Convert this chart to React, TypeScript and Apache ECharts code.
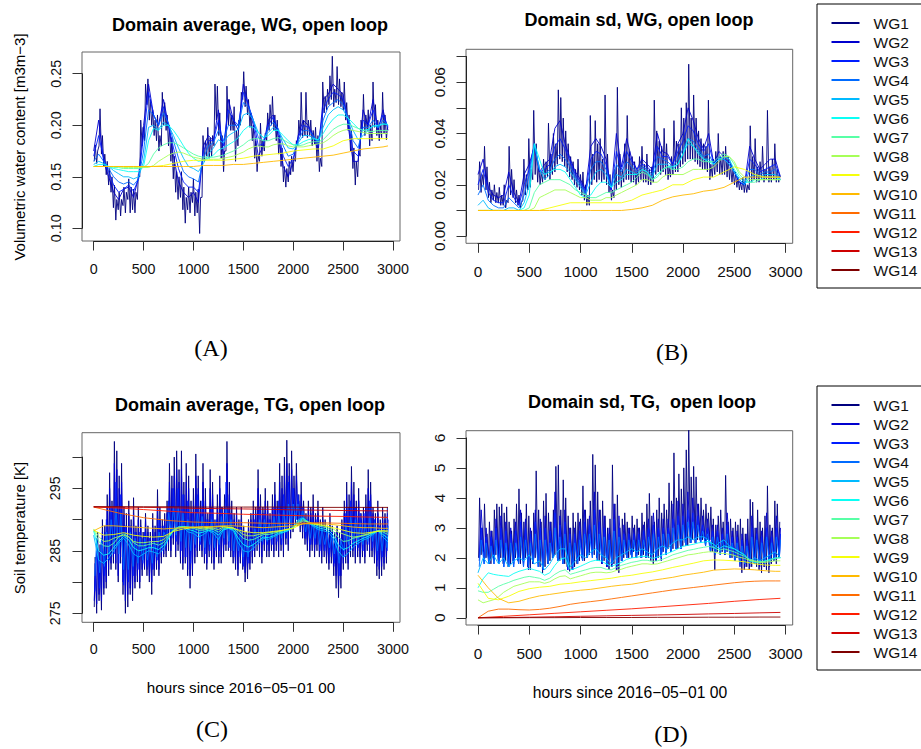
import React, { useEffect, useRef } from "react";
import * as echarts from "echarts";

const SERIES_NAMES = ["WG1","WG2","WG3","WG4","WG5","WG6","WG7","WG8","WG9","WG10","WG11","WG12","WG13","WG14"];
const SERIES_COLORS = ["#00007F","#0000CE","#001DFF","#006BFF","#00BAFF","#0AFFF5","#58FFA6","#A6FF58","#F5FF0A","#FFBA00","#FF6B00","#FF1D00","#CE0000","#7F0000"];

const X_TICK_LABELS = [0, 500, 1000, 1500, 2000, 2500, 3000];
const Y_LABELS_A = [0.10, 0.15, 0.20, 0.25];
const Y_LABELS_B = [0.00, 0.02, 0.04, 0.06];
const Y_LABELS_C = [275, 285, 295];
const Y_LABELS_D = [0, 1, 2, 3, 4, 5, 6];

// hour grids (x values)
const H50 = Array.from({ length: 60 }, (_, i) => i * 50);
const H100 = [...Array.from({ length: 30 }, (_, i) => i * 100), 2950];
const H250 = [...Array.from({ length: 12 }, (_, i) => i * 250), 2950];

// ---------- Panel A: domain average WG ----------
// WG1 daily maximum / minimum
const A_MAX1 = [
0.181,0.175,0.216,0.190,0.172,0.165,0.158,0.150,0.142,0.128,
0.135,0.128,0.140,0.135,0.148,0.140,0.138,0.135,0.152,0.205,
0.198,0.240,0.245,0.225,0.215,0.205,0.210,0.190,0.232,0.222,
0.210,0.200,0.188,0.170,0.155,0.150,0.155,0.140,0.130,0.140,
0.135,0.148,0.135,0.138,0.130,0.190,0.185,0.198,0.188,0.190,
0.240,0.238,0.212,0.190,0.175,0.238,0.225,0.210,0.218,0.195,
0.205,0.232,0.252,0.238,0.225,0.212,0.200,0.185,0.170,0.202,
0.185,0.192,0.212,0.220,0.228,0.210,0.205,0.190,0.178,0.160,
0.158,0.165,0.170,0.168,0.185,0.205,0.232,0.205,0.232,0.205,
0.205,0.195,0.198,0.190,0.168,0.242,0.228,0.235,0.248,0.267,
0.235,0.257,0.245,0.232,0.242,0.222,0.210,0.195,0.178,0.165,
0.175,0.205,0.230,0.210,0.215,0.200,0.242,0.220,0.205,0.200,
0.232,0.210,0.198];
const A_MIN1 = [
0.165,0.163,0.180,0.172,0.160,0.152,0.142,0.135,0.120,0.108,
0.118,0.112,0.122,0.115,0.128,0.115,0.118,0.115,0.128,0.150,
0.180,0.185,0.220,0.205,0.200,0.190,0.185,0.175,0.180,0.200,
0.195,0.180,0.165,0.148,0.135,0.128,0.130,0.118,0.105,0.118,
0.115,0.125,0.112,0.115,0.095,0.130,0.165,0.170,0.168,0.170,
0.180,0.205,0.190,0.168,0.155,0.175,0.200,0.195,0.195,0.165,
0.180,0.200,0.225,0.218,0.210,0.198,0.185,0.168,0.155,0.165,
0.170,0.175,0.185,0.195,0.200,0.195,0.185,0.172,0.160,0.145,
0.140,0.145,0.152,0.155,0.165,0.180,0.190,0.188,0.190,0.188,
0.190,0.180,0.182,0.165,0.155,0.160,0.212,0.215,0.220,0.225,
0.218,0.222,0.220,0.218,0.215,0.205,0.195,0.175,0.158,0.142,
0.150,0.170,0.195,0.190,0.195,0.180,0.185,0.198,0.190,0.185,
0.188,0.192,0.186];
const A_WG2 = [
0.175,0.205,0.165,0.150,0.135,0.128,0.138,0.140,0.130,0.150,
0.200,0.240,0.210,0.200,0.225,0.200,0.170,0.145,0.135,0.130,
0.135,0.125,0.180,0.190,0.185,0.215,0.170,0.225,0.205,0.195,
0.240,0.220,0.200,0.170,0.180,0.205,0.210,0.190,0.160,0.150,
0.165,0.190,0.205,0.200,0.190,0.175,0.225,0.230,0.240,0.235,
0.230,0.200,0.165,0.165,0.215,0.200,0.225,0.195,0.215,0.195];
const A_WG3 = [
0.170,0.190,0.168,0.155,0.142,0.135,0.138,0.142,0.136,0.148,
0.190,0.232,0.210,0.200,0.218,0.200,0.178,0.158,0.145,0.140,
0.140,0.135,0.175,0.185,0.185,0.205,0.180,0.215,0.205,0.200,
0.232,0.220,0.205,0.180,0.182,0.200,0.208,0.195,0.170,0.160,
0.168,0.188,0.200,0.198,0.190,0.180,0.215,0.225,0.232,0.230,
0.225,0.205,0.175,0.170,0.205,0.200,0.215,0.198,0.210,0.198];
const A_WG4 = [
0.165,0.172,0.165,0.158,0.150,0.145,0.143,0.145,0.142,0.148,
0.175,0.215,0.210,0.200,0.212,0.202,0.185,0.168,0.155,0.150,
0.148,0.145,0.168,0.180,0.183,0.195,0.185,0.200,0.200,0.200,
0.222,0.218,0.205,0.188,0.185,0.197,0.203,0.197,0.180,0.170,
0.172,0.185,0.195,0.195,0.190,0.183,0.205,0.218,0.222,0.225,
0.220,0.207,0.185,0.178,0.198,0.198,0.205,0.198,0.205,0.200];
const A_WG5 = [
0.162,0.165,0.163,0.160,0.156,0.153,0.150,0.150,0.148,0.150,
0.165,0.198,0.200,0.196,0.203,0.200,0.190,0.178,0.168,0.160,
0.158,0.155,0.163,0.172,0.178,0.186,0.183,0.190,0.193,0.196,
0.210,0.212,0.205,0.193,0.188,0.193,0.198,0.195,0.186,0.178,
0.177,0.183,0.190,0.190,0.188,0.185,0.198,0.210,0.215,0.218,
0.215,0.207,0.195,0.186,0.190,0.195,0.200,0.198,0.202,0.200];
const A_WG6 = [
0.160,0.162,0.162,0.160,0.158,0.157,0.156,0.155,0.155,0.155,
0.160,0.185,0.197,0.195,0.200,0.200,0.195,0.188,0.180,0.173,
0.168,0.165,0.166,0.168,0.171,0.176,0.178,0.181,0.184,0.188,
0.195,0.199,0.198,0.193,0.188,0.190,0.195,0.195,0.190,0.185,
0.181,0.181,0.184,0.186,0.187,0.186,0.192,0.200,0.206,0.210,
0.210,0.207,0.202,0.197,0.195,0.196,0.199,0.200,0.201,0.201];
const A_WG7 = [
0.160,0.160,0.160,0.160,0.159,0.159,0.158,0.158,0.158,0.158,
0.159,0.163,0.172,0.178,0.181,0.183,0.183,0.181,0.178,0.175,
0.172,0.170,0.169,0.169,0.169,0.170,0.171,0.173,0.175,0.178,
0.181,0.185,0.187,0.187,0.185,0.185,0.187,0.188,0.186,0.183,
0.181,0.180,0.181,0.183,0.184,0.184,0.186,0.191,0.196,0.199,
0.201,0.201,0.199,0.197,0.195,0.194,0.194,0.195,0.195,0.195];
const A_WG8 = [
0.160,0.160,0.160,0.160,0.160,0.160,0.159,0.159,0.159,0.159,
0.159,0.159,0.161,0.165,0.168,0.171,0.173,0.174,0.173,0.171,
0.169,0.168,0.167,0.167,0.167,0.167,0.168,0.169,0.170,0.172,
0.174,0.177,0.179,0.180,0.179,0.179,0.181,0.182,0.182,0.180,
0.179,0.179,0.179,0.180,0.181,0.182,0.183,0.186,0.190,0.193,
0.195,0.196,0.195,0.194,0.193,0.192,0.192,0.192,0.192,0.192];
const A_WG9 = [
0.160,0.160,0.160,0.160,0.160,0.160,0.160,0.161,0.163,0.165,
0.166,0.166,0.166,0.166,0.167,0.168,0.170,0.171,0.172,0.173,
0.175,0.176,0.177,0.177,0.180,0.185,0.187,0.187,0.187,0.187,0.187];
const A_WG10 = [
0.160,0.160,0.160,0.160,0.160,0.160,0.160,0.160,0.160,0.160,
0.160,0.161,0.161,0.161,0.162,0.162,0.163,0.164,0.165,0.166,
0.167,0.168,0.169,0.170,0.171,0.173,0.175,0.177,0.178,0.179,0.180];

// ---------- Panel B: domain sd WG ----------
const B_MAX1 = [
0.029,0.024,0.035,0.027,0.021,0.018,0.020,0.017,0.019,0.016,
0.020,0.014,0.035,0.026,0.022,0.018,0.016,0.013,0.030,0.024,
0.038,0.026,0.049,0.036,0.028,0.025,0.030,0.029,0.044,0.032,
0.040,0.036,0.057,0.054,0.046,0.041,0.036,0.031,0.029,0.026,
0.030,0.024,0.025,0.020,0.016,0.047,0.032,0.045,0.036,0.038,
0.030,0.055,0.032,0.024,0.018,0.026,0.058,0.032,0.026,0.036,
0.047,0.033,0.031,0.029,0.026,0.031,0.035,0.028,0.032,0.026,
0.027,0.053,0.041,0.037,0.035,0.042,0.036,0.027,0.031,0.045,
0.037,0.036,0.050,0.046,0.052,0.067,0.046,0.055,0.046,0.041,
0.038,0.036,0.035,0.053,0.028,0.030,0.033,0.040,0.031,0.033,
0.035,0.031,0.028,0.026,0.025,0.023,0.021,0.023,0.021,0.020,
0.043,0.031,0.038,0.027,0.029,0.035,0.026,0.049,0.027,0.030,
0.036,0.026,0.024];
const B_MIN1 = [
0.018,0.017,0.020,0.018,0.015,0.013,0.014,0.013,0.013,0.012,
0.012,0.011,0.013,0.016,0.015,0.013,0.012,0.011,0.014,0.016,
0.018,0.019,0.022,0.024,0.021,0.020,0.021,0.022,0.023,0.022,
0.024,0.025,0.028,0.030,0.029,0.027,0.025,0.023,0.022,0.020,
0.019,0.018,0.016,0.014,0.012,0.012,0.020,0.022,0.021,0.022,
0.021,0.022,0.020,0.017,0.014,0.015,0.018,0.020,0.019,0.021,
0.022,0.022,0.021,0.021,0.020,0.021,0.022,0.021,0.021,0.020,
0.020,0.021,0.024,0.025,0.024,0.025,0.024,0.022,0.023,0.024,
0.025,0.025,0.027,0.028,0.029,0.030,0.030,0.030,0.029,0.028,
0.027,0.026,0.026,0.025,0.022,0.023,0.024,0.025,0.024,0.024,
0.024,0.023,0.022,0.021,0.020,0.019,0.018,0.018,0.017,0.017,
0.018,0.021,0.022,0.021,0.021,0.022,0.021,0.022,0.021,0.021,
0.022,0.021,0.021];
const B_WG2 = [
0.024,0.030,0.019,0.016,0.015,0.016,0.025,0.017,0.013,0.024,
0.028,0.035,0.025,0.028,0.030,0.042,0.045,0.036,0.030,0.025,
0.022,0.018,0.035,0.038,0.035,0.030,0.018,0.040,0.027,0.038,
0.030,0.026,0.030,0.028,0.026,0.040,0.033,0.032,0.028,0.036,
0.040,0.050,0.045,0.038,0.034,0.040,0.028,0.033,0.031,0.030,
0.025,0.021,0.020,0.035,0.030,0.026,0.028,0.030,0.030,0.023];
const B_WG3 = [
0.020,0.026,0.017,0.014,0.013,0.013,0.020,0.015,0.012,0.020,
0.026,0.036,0.025,0.026,0.028,0.035,0.038,0.034,0.029,0.024,
0.021,0.017,0.030,0.033,0.032,0.028,0.018,0.033,0.026,0.033,
0.029,0.026,0.028,0.027,0.025,0.035,0.031,0.031,0.028,0.033,
0.037,0.043,0.041,0.036,0.033,0.036,0.028,0.031,0.030,0.029,
0.025,0.021,0.020,0.030,0.028,0.025,0.026,0.027,0.028,0.023];
const B_WG4 = [
0.016,0.020,0.014,0.012,0.011,0.011,0.015,0.013,0.011,0.016,
0.024,0.036,0.026,0.024,0.026,0.030,0.032,0.030,0.027,0.023,
0.020,0.017,0.026,0.029,0.029,0.026,0.019,0.028,0.025,0.029,
0.027,0.025,0.027,0.026,0.024,0.031,0.030,0.029,0.027,0.030,
0.034,0.038,0.037,0.034,0.031,0.032,0.028,0.030,0.030,0.028,
0.025,0.022,0.020,0.026,0.026,0.024,0.025,0.025,0.026,0.022];
const B_WG5 = [
0.012,0.014,0.011,0.010,0.010,0.010,0.011,0.011,0.010,0.013,
0.020,0.036,0.026,0.022,0.024,0.027,0.028,0.027,0.025,0.022,
0.019,0.016,0.021,0.025,0.026,0.024,0.019,0.024,0.023,0.026,
0.025,0.024,0.026,0.025,0.023,0.028,0.028,0.028,0.026,0.028,
0.032,0.036,0.035,0.033,0.030,0.030,0.028,0.030,0.030,0.028,
0.025,0.022,0.020,0.023,0.024,0.023,0.024,0.024,0.024,0.022];
const B_WG6 = [
0.010,0.010,0.010,0.010,0.010,0.010,0.010,0.010,0.010,0.011,
0.016,0.036,0.030,0.024,0.025,0.026,0.026,0.025,0.022,0.019,
0.016,0.015,0.016,0.019,0.021,0.021,0.019,0.021,0.022,0.024,
0.024,0.024,0.026,0.025,0.022,0.024,0.026,0.027,0.027,0.028,
0.032,0.038,0.035,0.032,0.030,0.029,0.028,0.030,0.031,0.030,
0.026,0.023,0.021,0.021,0.022,0.022,0.023,0.023,0.023,0.022];
const B_WG7 = [
0.010,0.010,0.010,0.010,0.010,0.010,0.010,0.010,0.010,0.010,
0.011,0.017,0.020,0.021,0.022,0.022,0.022,0.021,0.020,0.018,
0.017,0.016,0.015,0.015,0.016,0.017,0.017,0.018,0.019,0.020,
0.021,0.023,0.025,0.024,0.022,0.023,0.026,0.027,0.026,0.026,
0.027,0.029,0.030,0.030,0.029,0.029,0.029,0.031,0.032,0.031,
0.028,0.024,0.022,0.021,0.021,0.022,0.022,0.022,0.022,0.022];
const B_WG8 = [
0.010,0.010,0.010,0.010,0.010,0.010,0.010,0.010,0.010,0.010,
0.010,0.011,0.015,0.016,0.017,0.018,0.018,0.018,0.017,0.016,
0.015,0.015,0.014,0.014,0.014,0.015,0.015,0.016,0.017,0.018,
0.019,0.020,0.022,0.022,0.021,0.021,0.023,0.024,0.024,0.024,
0.024,0.025,0.026,0.026,0.026,0.026,0.027,0.029,0.031,0.031,
0.029,0.025,0.023,0.022,0.022,0.022,0.022,0.022,0.022,0.022];
const B_WG9 = [
0.010,0.010,0.010,0.010,0.010,0.010,0.010,0.011,0.012,0.013,
0.013,0.013,0.013,0.013,0.013,0.014,0.016,0.017,0.018,0.020,
0.020,0.022,0.023,0.023,0.025,0.027,0.026,0.024,0.023,0.023,0.023];
const B_WG10 = [
0.010,0.010,0.010,0.010,0.010,0.010,0.010,0.010,0.010,0.010,
0.010,0.010,0.010,0.010,0.010,0.0104,0.011,0.012,0.014,0.0153,
0.016,0.0165,0.0175,0.018,0.019,0.021,0.023,0.023,0.023,0.023,0.023];

// ---------- Panel C: domain average TG ----------
const C_MAX1 = [
284,288,286,290,289,294,297.5,293,302.5,301,
297,299,292,291,293,290,293.5,289,292,290,
288,291,289,288,291,289,294.8,292,290,291,
293,299,297,300,301,298,301,296,299,297,
293,295,300.5,297,293,299,295,291,298,296,
290,294,297,292,294,302.5,296,293,291,292,
290,292,289,288,290,291,293,292,298,294,
292,295,293,291,294,296,293,299,297,300,
302.7,299,301,297,299,294,296,293,291,293,
292,294,291,293,290,292,290,289,291,289,
288,289,288,290,293,296,294,298.5,296,293,
295,291,292,294,298,296,292,291,293,290,
292,291,292];
const C_MIN1 = [
276,275,277,275.5,278,279,281,282,283,282,
280,283,278,275,276,278,277,279,280,279,
281,282,281,280,278,281,282,281,283,284,
284,285,284,286,284,285,283,282,283,281,
279,281,283,284,285,284,283,282,284,283,
282,284,283,283,284,285,285,284,283,282,
281,283,282,280,280.5,282,283,284,285,284,
283,285,284,284,285,284,285,284,285,284,
286,285,287,288,289,289,288,287,286,285,
284,285,284,285,284,283,284,283,282,283,
281,279,277.5,279,282,283,282,284,284,283,
284,283,284,283,285,284,284,283,281,280.5,
281,282,283];
const C_MAX2 = [
283,286,285,288,288,292,295,292,299,298,
295,296,291,289,291,289,291,288,290,289,
287,290,288,287,289,288,292,290,289,290,
291,296,295,297,298,296,298,294,296,295,
291,293,297,295,291,296,293,290,295,294,
289,292,295,291,292,299,294,291,290,291,
289,290,288,287,289,290,291,291,295,292,
291,293,292,290,292,294,292,296,295,297,
299,297,298,295,297,293,294,292,290,292,
291,292,290,291,289,290,289,288,289,288,
287,288,287,289,291,294,292,296,294,292,
293,290,291,292,295,294,291,290,291,289,
290,290,291];
const C_MIN2 = [
277,276.5,278,277,279,280,282,283,284,283,
281,284,280,277,278,279,279,280,281,280,
282,282.5,282,281,280,282,283,282,284,284.5,
285,286,285,287,285,286,284,283,284,282,
281,282,284,285,286,285,284,283,285,284,
283,285,284,284,285,286,286,285,284,283,
282,284,283,281.5,282,283,284,285,286,285,
284,286,285,285,286,285,286,285,286,285,
287,286,288,289,290,290,289,288,287,286,
285,286,285,286,285,284,285,284,283,284,
282.5,281,279.5,281,283,284,283,285,285,284,
285,284,285,284,286,285,285,284,282.5,282,
282.5,283,284];
const C_MAX3 = [
285,287,290,292,296,294,289,289,288,288,
288,287,287,290,289,293,295,295,294,293,
291,294,293,290,292,290,292,296,291,289,
289,287,288,290,292,291,290,292,293,294,
296,295,294,292,290,290,290,289,288,288,
287,287,291,293,292,291,291,293,290,289,
289,290];
const C_MIN3 = [
278.5,279,281,283.5,284.5,283,279.5,280,281,282,
283,282.5,282,283.5,285,286.5,287,286.5,285,284,
283,285.5,286,284.5,285,285,285,286,285.5,284,
284,282.5,283,285,286,286,286,286,286.5,286,
287,288.5,290,289,287,286,286,285,285,284.5,
283,281,284,285,285.5,285.5,285,286,285.5,283.5,
284,285];
const C_MAX4 = [
287,287,288,290,292,291,288,288,287,287,
287,286.5,286.5,288,288,291,292,292,291,290,
289.5,291,290.5,289,290,289,290.5,292,290,288.5,
288.5,287,287,288.5,290,290,289.5,290.5,291,291.5,
292.5,292.5,292.5,291.5,290,289.5,289.5,288.5,288,287.5,
287,286.5,289,290.5,290,289.5,289.5,290.5,289.5,288.5,
288.5,289];
const C_MIN4 = [
281,281.5,282.5,284.5,285.5,284.5,282,282,282.5,283,
283.5,283.5,283,284,285.5,287,287.5,287.5,286.5,285.5,
285,286,286.5,285.5,286,285.5,286,287,286.5,285,
285,284,284,285.5,286.5,286.5,286.5,287,287,287,
288,289,290,289.5,288,287,287,286,286,285.5,
284.5,283,285,286,286,286,286,286.5,286.5,285,
285,285.5];
const C_WG5 = [
287.5,283.5,283.0,283.8,285.0,286.2,287.0,286.0,284.5,284.0,
284.5,285.0,284.8,284.5,285.3,287.0,288.5,288.8,288.7,288.0,
287.8,287.2,287.6,288.2,287.8,286.8,288.3,288.6,288.2,286.3,
285.0,284.8,285.4,286.2,287.0,286.8,287.2,287.6,287.9,288.2,
288.8,290.0,290.3,289.5,288.9,288.4,288.2,288.0,287.0,285.0,
284.0,284.6,285.6,286.2,286.7,287.0,287.6,288.2,287.2,286.4];
const C_WG6 = [
288.2,285.0,284.3,284.5,285.5,286.5,287.3,286.8,285.5,285.0,
285.2,285.5,285.5,285.2,285.8,287.0,288.3,288.8,288.8,288.4,
288.2,287.8,288.0,288.3,288.1,287.5,288.4,288.6,288.4,287.0,
286.0,285.6,286.0,286.6,287.2,287.1,287.4,287.8,288.0,288.3,
288.7,289.7,290.2,289.6,289.1,288.7,288.5,288.3,287.5,286.0,
285.2,285.5,286.2,286.6,287.0,287.3,287.8,288.2,287.6,287.0];
const C_WG7 = [
288.4,286.5,285.8,285.7,286.2,287.2,287.7,287.3,286.3,285.8,
285.8,286.0,286.2,285.9,286.3,287.3,288.3,288.8,288.9,288.8,
288.6,288.3,288.3,288.5,288.4,288.0,288.6,288.7,288.6,287.8,
287.0,286.7,286.8,287.2,287.6,287.6,287.8,288.0,288.2,288.4,
288.7,289.5,290.0,289.6,289.3,289.0,288.8,288.6,288.1,287.2,
286.5,286.6,287.0,287.2,287.4,287.6,287.9,288.2,288.0,287.6];
const C_WG8 = [
288.5,287.3,286.5,286.6,287.0,287.3,287.5,287.2,286.5,286.3,
286.3,286.4,286.5,286.5,286.8,287.5,288.2,288.6,288.8,288.8,
288.8,288.6,288.5,288.6,288.6,288.4,288.8,288.8,288.7,288.2,
287.6,287.4,287.4,287.6,287.8,287.9,288.0,288.1,288.3,288.5,
288.7,289.3,289.8,289.6,289.4,289.2,289.0,288.8,288.5,288.0,
287.7,287.4,287.2,287.3,287.5,287.7,288.0,288.2,288.2,288.0];
const C_WG9 = [
288.3,287.5,287.6,287.9,287.5,287.3,287.2,287.3,288.1,288.5,
288.7,288.7,288.8,288.9,288.6,288.1,287.9,287.9,288.1,288.3,
288.6,289.4,289.3,289.1,288.7,288.3,287.9,287.8,288.0,288.2,288.2];
const C_WG10 = [
288.2,289.0,289.0,288.9,288.8,288.7,288.6,288.5,288.6,288.7,
288.8,288.9,288.9,289.0,289.0,288.9,288.8,288.7,288.8,288.9,
289.0,289.3,289.4,289.3,289.2,289.0,288.8,288.7,288.7,288.6,288.6];
const C_WG11 = [292.0,291.05,290.3,289.85,289.6,289.5,289.5,289.4,289.4,289.5,289.4,289.3,289.3];
const C_WG12 = [292.0,291.85,291.6,291.35,291.1,291.0,290.85,290.75,290.65,290.55,290.5,290.4,290.35];
const C_WG13 = [292.05,292.0,291.95,291.9,291.8,291.75,291.7,291.65,291.55,291.5,291.45,291.4,291.4];
const C_WG14 = [292.05,292.05,292.05,292.05,292.0,292.0,292.0,292.0,292.0,291.95,291.95,291.95,291.95];

// ---------- Panel D: domain sd TG ----------
const D_MAX1 = [
4.0,3.0,3.8,2.8,3.2,2.9,3.6,3.8,3.7,3.8,
3.5,3.7,3.2,2.9,3.3,3.8,4.3,3.5,3.2,3.8,
3.4,2.9,3.5,4.9,3.6,3.2,3.9,4.15,3.5,3.2,
3.6,5.05,5.1,3.6,4.6,4.0,3.4,3.0,3.5,3.2,
3.5,3.3,4.4,3.6,3.3,3.9,5.45,5.1,4.2,3.6,
3.9,3.4,3.0,3.3,5.1,3.8,4.1,3.0,3.3,3.5,
3.2,3.0,3.4,3.1,3.3,3.0,3.5,3.2,3.8,4.15,
3.4,3.2,3.6,4.0,3.5,3.8,3.6,4.5,3.9,5.5,
4.0,4.8,4.3,5.0,5.6,6.4,4.7,5.05,4.7,3.8,
4.0,3.6,3.8,3.5,3.7,3.3,3.1,3.4,3.6,3.2,
4.75,3.2,3.3,3.0,3.2,3.1,3.3,3.0,2.8,3.3,
3.95,3.86,3.0,3.6,3.2,3.0,3.4,4.4,3.1,3.0,
3.9,3.8,3.2];
const D_MIN1 = [
2.0,2.1,2.2,2.0,1.9,1.8,2.0,2.1,1.9,2.0,
1.8,1.9,1.7,1.8,1.9,2.0,1.9,1.8,1.9,2.0,
1.7,1.6,1.8,2.0,1.9,1.7,1.5,1.7,1.8,1.9,
2.0,2.1,2.0,1.9,2.0,1.8,1.7,1.55,1.6,1.7,
1.8,1.9,2.0,1.9,2.0,2.1,2.2,2.1,2.0,1.9,
1.8,1.9,1.7,1.6,1.7,1.8,1.6,1.5,1.9,2.0,
2.1,2.0,2.1,2.2,2.0,2.1,2.0,2.1,2.0,2.0,
1.9,1.8,1.9,2.0,2.1,2.2,2.2,2.3,2.2,2.3,
2.4,2.3,2.4,2.4,2.5,2.4,2.5,2.6,2.5,2.6,
2.6,2.6,2.5,2.6,2.6,2.2,1.6,2.2,2.3,2.2,
2.1,2.2,2.1,2.0,1.9,2.0,1.9,1.5,1.6,1.7,
1.6,1.7,1.8,1.7,1.6,1.5,1.7,1.6,1.5,1.8,
1.9,1.8,2.0];
const D_MAX2 = [
3.6,3.0,2.9,3.3,3.4,3.2,3.0,3.2,3.6,3.3,
3.0,3.6,3.3,3.4,3.2,4.2,3.4,3.6,3.0,3.0,
3.2,3.6,3.4,4.2,3.6,3.4,3.0,3.8,3.4,3.1,
3.0,3.0,3.0,3.1,3.3,3.5,3.3,3.3,3.3,3.8,
3.9,3.8,4.2,4.0,3.8,3.4,3.3,3.1,3.1,3.0,
3.5,2.9,2.9,2.8,2.8,3.4,3.0,2.9,3.5,2.9,
3.4,3.0];
const D_MIN2 = [
2.0,1.9,1.8,1.9,1.9,1.8,1.7,1.8,1.8,1.8,
1.6,1.8,1.8,1.6,1.8,2.0,1.9,1.8,1.6,1.6,
1.8,1.9,2.0,2.1,2.0,1.8,1.7,1.7,1.6,1.9,
2.0,2.0,2.1,2.0,2.0,2.0,1.9,1.9,2.1,2.2,
2.3,2.3,2.4,2.5,2.5,2.5,2.5,2.2,2.1,2.1,
2.1,2.0,1.9,1.7,1.7,1.7,1.8,1.7,1.7,1.7,
1.9,2.0];
const D_MAX3 = [
3.0,2.7,2.7,3.0,3.0,2.9,2.8,2.9,3.2,3.0,
2.8,3.2,3.0,3.0,2.9,3.5,3.1,3.2,2.8,2.8,
2.9,3.2,3.1,3.6,3.2,3.0,2.8,3.3,3.0,2.8,
2.8,2.8,2.8,2.9,3.0,3.1,3.0,3.0,3.0,3.3,
3.4,3.4,3.6,3.5,3.4,3.1,3.0,2.9,2.9,2.8,
3.1,2.7,2.7,2.6,2.6,3.0,2.8,2.7,3.0,2.7,
3.0,2.8];
const D_MIN3 = [
1.9,1.8,1.8,1.8,1.8,1.7,1.7,1.7,1.8,1.7,
1.7,1.8,1.7,1.6,1.8,2.0,1.9,1.8,1.6,1.6,
1.8,1.9,2.0,2.0,1.9,1.8,1.7,1.8,1.7,1.9,
2.0,2.0,2.0,2.0,2.0,2.0,1.9,2.0,2.1,2.2,
2.3,2.3,2.4,2.5,2.5,2.5,2.4,2.2,2.1,2.1,
2.1,2.0,1.9,1.8,1.8,1.8,1.8,1.8,1.8,1.8,
1.9,2.0];
const D_MAX4 = [
2.6,2.5,2.4,2.6,2.6,2.5,2.5,2.5,2.7,2.6,
2.5,2.8,2.6,2.6,2.5,3.0,2.7,2.8,2.5,2.5,
2.6,2.8,2.8,3.1,2.8,2.7,2.6,2.9,2.7,2.6,
2.6,2.6,2.6,2.6,2.7,2.8,2.7,2.8,2.8,3.0,
3.1,3.1,3.2,3.2,3.1,2.9,2.8,2.7,2.7,2.6,
2.8,2.5,2.5,2.4,2.4,2.7,2.6,2.5,2.7,2.5,
2.7,2.6];
const D_MIN4 = [
1.7,1.8,1.8,1.8,1.8,1.7,1.7,1.7,1.8,1.7,
1.7,1.8,1.7,1.6,1.8,2.0,1.9,1.8,1.7,1.7,
1.8,1.9,2.0,2.0,1.9,1.9,1.8,1.8,1.8,1.9,
2.0,2.0,2.0,2.0,2.0,2.0,2.0,2.0,2.1,2.2,
2.3,2.3,2.4,2.5,2.5,2.5,2.4,2.2,2.1,2.1,
2.1,2.0,1.9,1.8,1.8,1.8,1.8,1.8,1.8,1.8,
1.9,2.0];
const D_WG5 = [
1.5,2.0,1.8,2.1,1.8,2.0,1.7,1.9,2.0,1.9,
2.1,1.8,1.9,1.6,1.8,2.1,2.3,2.3,1.7,1.9,
2.1,2.0,2.2,2.3,2.1,2.0,1.8,2.0,2.1,2.2,
2.3,2.2,2.3,2.2,2.1,2.3,2.4,2.3,2.5,2.6,
2.6,2.7,2.6,2.7,2.7,2.6,2.3,2.5,2.6,2.4,
2.3,2.2,2.1,1.9,2.0,1.9,2.0,2.1,2.2,2.0];
const D_WG6 = [
1.0,1.3,1.5,1.45,1.42,1.4,1.38,1.48,1.55,1.6,
1.65,1.6,1.55,1.42,1.5,1.75,1.95,2.0,1.6,1.65,
1.72,1.8,1.88,1.92,1.9,1.8,1.72,1.78,1.85,1.95,
2.0,2.02,2.05,2.05,1.98,2.02,2.1,2.15,2.22,2.3,
2.38,2.42,2.45,2.5,2.52,2.55,2.45,2.3,2.4,2.35,
2.3,2.2,2.1,1.9,1.85,1.85,1.9,1.95,2.0,2.0];
const D_WG7 = [
0.9,0.85,0.85,0.95,1.05,1.12,1.18,1.25,1.3,1.35,
1.38,1.35,1.32,1.25,1.32,1.45,1.55,1.6,1.45,1.5,
1.55,1.6,1.65,1.68,1.68,1.62,1.6,1.68,1.75,1.8,
1.85,1.88,1.92,1.92,1.88,1.9,1.95,2.02,2.1,2.15,
2.2,2.25,2.28,2.32,2.35,2.38,2.35,2.25,2.3,2.25,
2.2,2.12,2.05,1.95,1.9,1.88,1.88,1.92,1.98,2.0];
const D_WG8 = [
0.6,0.5,0.55,0.6,0.7,0.85,0.95,1.05,1.1,1.15,
1.2,1.2,1.2,1.15,1.2,1.3,1.38,1.4,1.3,1.35,
1.4,1.45,1.5,1.52,1.52,1.5,1.52,1.58,1.62,1.68,
1.72,1.76,1.8,1.8,1.78,1.8,1.85,1.9,1.95,2.0,
2.05,2.1,2.12,2.15,2.18,2.2,2.2,2.15,2.15,2.12,
2.08,2.02,1.98,1.92,1.88,1.85,1.85,1.87,1.9,1.9];
const D_WG9 = [
1.15,0.65,0.6,0.72,0.88,0.97,1.02,1.05,1.12,1.15,
1.2,1.24,1.28,1.32,1.38,1.42,1.48,1.53,1.6,1.68,
1.75,1.82,1.9,1.93,1.92,1.9,1.87,1.8,1.76,1.75,1.75];
const D_WG10 = [
1.42,1.0,0.65,0.5,0.55,0.65,0.73,0.78,0.83,0.88,
0.92,0.95,1.0,1.05,1.09,1.12,1.18,1.25,1.3,1.35,
1.42,1.47,1.52,1.59,1.61,1.63,1.62,1.6,1.57,1.55,1.55];
const D_WG11 = [
0,0.22,0.29,0.29,0.27,0.26,0.28,0.32,0.38,0.45,
0.5,0.54,0.58,0.63,0.68,0.73,0.78,0.83,0.88,0.93,
0.97,1.01,1.05,1.09,1.13,1.17,1.2,1.22,1.23,1.23,1.23];
const D_WG12 = [0,0.05,0.1,0.15,0.2,0.25,0.3,0.36,0.42,0.48,0.55,0.61,0.65];
const D_WG13 = [0,0.01,0.02,0.035,0.05,0.065,0.08,0.095,0.11,0.13,0.145,0.165,0.18];
const D_WG14 = [0,0,0.005,0.005,0.01,0.01,0.01,0.015,0.015,0.02,0.02,0.025,0.025];

// ---------- series specs ----------
type Spec = null | { hours: number[]; values: number[] } | { mins: number[]; maxs: number[]; period: number };
const SPEC_A: Spec[] = [
  { mins: A_MIN1, maxs: A_MAX1, period: 24 }, { hours: H50, values: A_WG2 }, { hours: H50, values: A_WG3 },
  { hours: H50, values: A_WG4 }, { hours: H50, values: A_WG5 }, { hours: H50, values: A_WG6 },
  { hours: H50, values: A_WG7 }, { hours: H50, values: A_WG8 }, { hours: H100, values: A_WG9 },
  { hours: H100, values: A_WG10 }, null, null, null, null];
const SPEC_B: Spec[] = [
  { mins: B_MIN1, maxs: B_MAX1, period: 24 }, { hours: H50, values: B_WG2 }, { hours: H50, values: B_WG3 },
  { hours: H50, values: B_WG4 }, { hours: H50, values: B_WG5 }, { hours: H50, values: B_WG6 },
  { hours: H50, values: B_WG7 }, { hours: H50, values: B_WG8 }, { hours: H100, values: B_WG9 },
  { hours: H100, values: B_WG10 }, null, null, null, null];
const SPEC_C: Spec[] = [
  { mins: C_MIN1, maxs: C_MAX1, period: 24 }, { mins: C_MIN2, maxs: C_MAX2, period: 24 },
  { mins: C_MIN3, maxs: C_MAX3, period: 48 }, { mins: C_MIN4, maxs: C_MAX4, period: 48 },
  { hours: H50, values: C_WG5 }, { hours: H50, values: C_WG6 }, { hours: H50, values: C_WG7 },
  { hours: H50, values: C_WG8 }, { hours: H100, values: C_WG9 }, { hours: H100, values: C_WG10 },
  { hours: H250, values: C_WG11 }, { hours: H250, values: C_WG12 }, { hours: H250, values: C_WG13 },
  { hours: H250, values: C_WG14 }];
const SPEC_D: Spec[] = [
  { mins: D_MIN1, maxs: D_MAX1, period: 24 }, { mins: D_MIN2, maxs: D_MAX2, period: 48 },
  { mins: D_MIN3, maxs: D_MAX3, period: 48 }, { mins: D_MIN4, maxs: D_MAX4, period: 48 },
  { hours: H50, values: D_WG5 }, { hours: H50, values: D_WG6 }, { hours: H50, values: D_WG7 },
  { hours: H50, values: D_WG8 }, { hours: H100, values: D_WG9 }, { hours: H100, values: D_WG10 },
  { hours: H100, values: D_WG11 }, { hours: H250, values: D_WG12 }, { hours: H250, values: D_WG13 },
  { hours: H250, values: D_WG14 }];

const LAST_HOUR = 2951;
function buildData(spec: Spec): number[][] {
  if (!spec) return [];
  if ("hours" in spec) return spec.hours.map((h, i) => [h, spec.values[i]]);
  const out: number[][] = [];
  for (let i = 0; i < spec.mins.length; i++) {
    out.push([Math.min(i * spec.period + spec.period * 0.25, LAST_HOUR), spec.mins[i]]);
    out.push([Math.min(i * spec.period + spec.period * 0.65, LAST_HOUR), spec.maxs[i]]);
  }
  return out;
}

const FONT = "'Liberation Sans', Arial, Helvetica, sans-serif";
const SERIF = "'Liberation Serif', 'DejaVu Serif', serif";
const X_MIN = -117;
const X_MAX = 3070;

const PANELS = [
  { spec: SPEC_A, box: { left: 82, top: 52, width: 318, height: 189 }, yMin: 0.0877, yMax: 0.2711,
    yFirst: 0.10, yLast: 0.25, yStep: 0.05, yLabels: Y_LABELS_A, dec: 2, fs: 14.3, xMargin: 21, yMargin: 19 },
  { spec: SPEC_B, box: { left: 466, top: 49.3, width: 326.7, height: 194 }, yMin: -0.0028, yMax: 0.0728,
    yFirst: 0, yLast: 0.07, yStep: 0.01, yLabels: Y_LABELS_B, dec: 2, fs: 15.4, xMargin: 21, yMargin: 19 },
  { spec: SPEC_C, box: { left: 82, top: 432.7, width: 318, height: 189.6 }, yMin: 273.56, yMax: 303.9,
    yFirst: 275, yLast: 300, yStep: 5, yLabels: Y_LABELS_C, dec: 0, fs: 14.3, xMargin: 20, yMargin: 20 },
  { spec: SPEC_D, box: { left: 466, top: 430.7, width: 326.7, height: 194.3 }, yMin: -0.24, yMax: 6.24,
    yFirst: 0, yLast: 6, yStep: 1, yLabels: Y_LABELS_D, dec: 0, fs: 15.4, xMargin: 21, yMargin: 19 },
];

const TEXTS = [
  { x: 250, y: 25, text: "Domain average, WG, open loop", font: `bold 18px ${FONT}`, rot: 0 },
  { x: 639, y: 20, text: "Domain sd, WG, open loop", font: `bold 18px ${FONT}`, rot: 0 },
  { x: 250, y: 405, text: "Domain average, TG, open loop", font: `bold 18px ${FONT}`, rot: 0 },
  { x: 642, y: 402, text: "Domain sd, TG,  open loop", font: `bold 18px ${FONT}`, rot: 0 },
  { x: 19, y: 147, text: "Volumetric water content [m3m\u22123]", font: `15px ${FONT}`, rot: Math.PI / 2 },
  { x: 19, y: 528, text: "Soil temperature [K]", font: `15px ${FONT}`, rot: Math.PI / 2 },
  { x: 241, y: 687, text: "hours since 2016\u221205\u221201 00", font: `15.2px ${FONT}`, rot: 0 },
  { x: 630, y: 692, text: "hours since 2016\u221205\u221201 00", font: `15.7px ${FONT}`, rot: 0 },
  { x: 211, y: 348, text: "(A)", font: `24px ${SERIF}`, rot: 0 },
  { x: 672, y: 352, text: "(B)", font: `24px ${SERIF}`, rot: 0 },
  { x: 212, y: 729, text: "(C)", font: `24px ${SERIF}`, rot: 0 },
  { x: 671, y: 734, text: "(D)", font: `24px ${SERIF}`, rot: 0 },
];

function buildOption() {
  const grid: any[] = [];
  const xAxis: any[] = [];
  const yAxis: any[] = [];
  const series: any[] = [];
  PANELS.forEach((p, pi) => {
    const b = p.box;
    const px = (v: number) => b.left + ((v - X_MIN) / (X_MAX - X_MIN)) * b.width;
    const py = (v: number) => b.top + b.height - ((v - p.yMin) / (p.yMax - p.yMin)) * b.height;
    const x0 = px(0), x1 = px(3000);
    const yTop = py(p.yLast), yBot = py(p.yFirst);
    grid.push({ left: b.left, top: b.top, width: b.width, height: b.height, show: true,
      borderColor: "#666", borderWidth: 1, backgroundColor: "transparent", containLabel: false, outerBoundsMode: "none" });
    grid.push({ left: x0, top: yTop, width: x1 - x0, height: yBot - yTop, show: false, containLabel: false, outerBoundsMode: "none" });
    xAxis.push({ type: "value", gridIndex: pi * 2, min: X_MIN, max: X_MAX, show: false });
    xAxis.push({
      type: "value", gridIndex: pi * 2 + 1, min: 0, max: 3000, interval: 500, position: "bottom",
      offset: b.top + b.height - yBot,
      axisLine: { show: true, onZero: false, lineStyle: { color: "#222", width: 1 } },
      axisTick: { show: true, inside: false, length: 9.5, lineStyle: { color: "#333", width: 1 } },
      axisLabel: { show: true, margin: p.xMargin, fontSize: p.fs, fontFamily: FONT, color: "#111",
        showMinLabel: true, showMaxLabel: true,
        formatter: (v: number) => (X_TICK_LABELS.some((t) => Math.abs(t - v) < 1e-6) ? String(Math.round(v)) : "") },
      splitLine: { show: false },
    });
    yAxis.push({ type: "value", gridIndex: pi * 2, min: p.yMin, max: p.yMax, show: false });
    yAxis.push({
      type: "value", gridIndex: pi * 2 + 1, min: p.yFirst, max: p.yLast, interval: p.yStep, position: "left",
      offset: x0 - b.left,
      axisLine: { show: true, onZero: false, lineStyle: { color: "#222", width: 1 } },
      axisTick: { show: true, inside: false, length: 9.5, lineStyle: { color: "#333", width: 1 } },
      axisLabel: { show: true, rotate: 90, margin: p.yMargin, fontSize: p.fs, fontFamily: FONT, color: "#111",
        showMinLabel: true, showMaxLabel: true,
        formatter: (v: number) => (p.yLabels.some((t) => Math.abs(t - v) < 1e-6) ? v.toFixed(p.dec) : "") },
      splitLine: { show: false },
    });
    p.spec.forEach((s, si) => {
      series.push({
        type: "line", name: SERIES_NAMES[si], xAxisIndex: pi * 2, yAxisIndex: pi * 2,
        data: buildData(s), showSymbol: false, symbol: "none", silent: true,
        color: SERIES_COLORS[si],
        lineStyle: { width: 1, color: SERIES_COLORS[si], opacity: 0.9 },
        emphasis: { disabled: true }, animation: false,
      });
    });
  });

  const legendBase = {
    orient: "vertical", left: 817, icon: "rect", itemWidth: 28, itemHeight: 2, itemGap: 3,
    padding: [11, 70, 10, 14.5], borderColor: "#000", borderWidth: 1, backgroundColor: "#fff",
    selectedMode: false, data: SERIES_NAMES,
    textStyle: { fontSize: 15.5, lineHeight: 16, fontFamily: FONT, color: "#111", padding: [0, 0, 0, 9] },
  };

  return {
    animation: false,
    backgroundColor: "#fff",
    grid, xAxis, yAxis, series,
    legend: [{ ...legendBase, top: 4 }, { ...legendBase, top: 386 }],
    graphic: TEXTS.map((t) => ({
      type: "text", x: t.x, y: t.y, rotation: t.rot, silent: true,
      style: { text: t.text, font: t.font, fill: "#000", textAlign: "center", textVerticalAlign: "middle" },
    })),
  };
}

export default function App() {
  const ref = useRef<HTMLDivElement>(null);
  useEffect(() => {
    if (!ref.current) return;
    const chart = echarts.init(ref.current, null, { renderer: "svg" });
    chart.setOption(buildOption() as any);
    return () => chart.dispose();
  }, []);
  return (
    <div ref={ref} style={{ position: "fixed", left: 0, top: 0, width: 921, height: 749, background: "#fff" }} />
  );
}
